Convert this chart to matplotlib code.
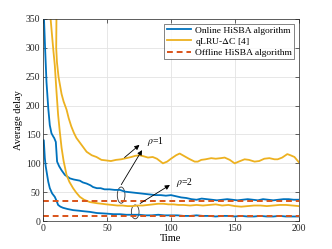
import matplotlib
matplotlib.use("Agg")
import matplotlib.pyplot as plt
from matplotlib.patches import Ellipse

plt.rcParams['font.family'] = ['Liberation Serif', 'DejaVu Serif']
plt.rcParams['mathtext.fontset'] = 'stix'

# Online HiSBA, rho=1
b1_x = [0.5, 1.5, 2.6, 4, 5.2, 6.5, 8, 8.6, 9.9, 10.9, 12.5, 14.4, 17, 20.9, 24, 28.7, 31, 34, 37, 39,
        42, 45, 48, 52, 56, 60, 64, 68, 72, 76, 80, 84, 88, 92, 96, 100, 104, 108, 112, 116,
        120, 124, 128, 132, 136, 140, 144, 148, 152, 156, 160, 164, 168, 172, 176, 180, 184, 188, 192, 196, 200]
b1_y = [360, 300, 241, 195, 166, 152, 146, 144, 137, 103, 95, 88, 80, 74, 72, 70, 67, 65, 62, 59,
        57, 57, 55, 55, 54, 54, 51, 50, 49, 48, 47, 46, 45, 45, 44, 45, 43, 41, 40, 38,
        37, 39, 38, 37, 36, 37, 38, 37, 36, 37, 38, 37, 36, 38, 37, 36, 37, 38, 38, 37, 37]

# Online HiSBA, rho=2
b2_x = [0, 0.5, 1.3, 2, 3.1, 4, 5.2, 7, 9.1, 10.5, 11.7, 13.5, 15.6, 19, 23.4, 28, 32, 36.5, 42, 49.5,
        55, 60, 65, 70, 75, 80, 85, 90, 95, 100, 105, 110, 115, 120, 125, 130, 135, 140, 145, 150,
        155, 160, 165, 170, 175, 180, 185, 190, 195, 200]
b2_y = [140, 140, 109, 95, 80, 68, 57, 48, 42, 35, 28, 25, 23, 21, 19, 18, 17, 16, 14, 13,
        12, 12, 11, 11, 11, 10, 10, 11, 10, 10, 10, 9, 9, 10, 9, 9, 8, 9, 9, 8,
        9, 8, 8, 9, 8, 8, 9, 8, 8, 8]

# qLRU-dC, rho=1
y1_x = [9.8, 10.4, 10.2, 10.8, 12, 14.4, 16, 18.3, 20, 22, 24, 26, 28, 30, 32, 34, 38, 41.7, 45.6, 49.5,
        53, 57, 61, 65, 69, 72, 75.5, 79, 82, 85.7, 89, 93.7, 97, 100, 104, 106.8, 110, 114, 118.5, 121,
        123.7, 127, 131.5, 135, 139, 142, 146, 149.8, 153, 157.6, 161, 165.4, 169, 173, 177, 181, 183.5, 187, 191, 193.5,
        196.6, 200]
y1_y = [400, 351, 300, 275, 250, 220, 207, 193, 178, 164, 153, 144, 138, 132, 126, 120, 114, 111, 106, 105,
        104, 106, 107, 109, 111, 113, 114, 112, 110, 111, 108, 100, 103, 108, 114, 117, 113, 108, 103, 103,
        106, 107, 109, 108, 109, 110, 106, 100, 103, 107, 106, 103, 104, 108, 109, 107, 107, 110, 116, 114,
        111, 102]

# qLRU-dC, rho=2
y2_x = [5, 5.8, 7, 8, 9.1, 10.4, 11.7, 13, 14.4, 16, 18.3, 20.5, 23.4, 26, 28.7, 32, 36.5, 42, 46, 49.5,
        54, 58, 62, 66, 70, 74, 78, 82, 86, 90, 94, 98, 102, 106, 110, 115, 120, 125, 130, 135,
        140, 145, 150, 155, 160, 165, 170, 175, 180, 185, 190, 195, 200]
y2_y = [400, 351, 320, 295, 270, 225, 184, 155, 127, 104, 80, 68, 57, 49, 42, 37, 33, 31, 30, 29,
        28, 27, 27, 26, 26, 27, 27, 28, 29, 30, 30, 29, 29, 28, 28, 27, 28, 27, 28, 29,
        27, 28, 26, 25, 26, 27, 27, 26, 27, 28, 28, 27, 26]

# Offline HiSBA levels
off_levels = [35, 8]

blue = '#0072BD'
yellow = '#EDB120'
red = '#D95319'

fig = plt.figure(figsize=(3.32, 2.49), dpi=100)
ax = fig.add_axes([0.13, 0.112, 0.77, 0.812])

ax.plot(b1_x, b1_y, color=blue, lw=1.3, label='Online HiSBA algorithm')
ax.plot(b2_x, b2_y, color=blue, lw=1.3)
ax.plot(y1_x, y1_y, color=yellow, lw=1.3, label=r'qLRU-$\Delta$C [4]')
ax.plot(y2_x, y2_y, color=yellow, lw=1.3)
for i, lv in enumerate(off_levels):
    ax.plot([0, 200], [lv, lv], color=red, lw=1.4, ls=(0, (3, 2)),
            label='Offline HiSBA algorithm' if i == 0 else None)

# annotations
ax.add_patch(Ellipse((61, 45), 6, 28, fill=False, lw=0.6, color='#333333'))
ax.add_patch(Ellipse((72, 16), 6, 24, fill=False, lw=0.6, color='#333333'))
arr = dict(arrowstyle='-|>', lw=0.6, color='black', mutation_scale=7)
ax.annotate('', xy=(77, 135), xytext=(62, 107), arrowprops=arr)
ax.annotate('', xy=(78.5, 127), xytext=(60, 59), arrowprops=arr)
ax.annotate('', xy=(101, 65), xytext=(74, 28), arrowprops=arr)
ax.text(81, 137, r'$\rho$=1', fontsize=7, va='center')
ax.text(104, 66, r'$\rho$=2', fontsize=7, va='center')

ax.set_xlim(0, 200)
ax.set_ylim(0, 350)
ax.set_xticks([0, 50, 100, 150, 200])
ax.set_yticks(range(0, 351, 50))
ax.grid(True, color='#e3e3e3', lw=0.6)
ax.set_axisbelow(True)
ax.tick_params(direction='in', top=True, right=True, labelsize=7, length=3, width=0.5,
               colors='#262626', pad=2)
for s in ax.spines.values():
    s.set_color('#262626')
    s.set_linewidth(0.5)
ax.set_xlabel('Time', fontsize=7.5, labelpad=1)
ax.set_ylabel('Average delay', fontsize=7.5, labelpad=2)

leg = ax.legend(loc='upper right', fontsize=6.8, handlelength=2.6, labelspacing=0.1,
                borderpad=0.25, handletextpad=0.4, borderaxespad=0.5, fancybox=False)
leg.get_frame().set_edgecolor('#262626')
leg.get_frame().set_linewidth(0.5)

fig.savefig('out.png', dpi=100)
